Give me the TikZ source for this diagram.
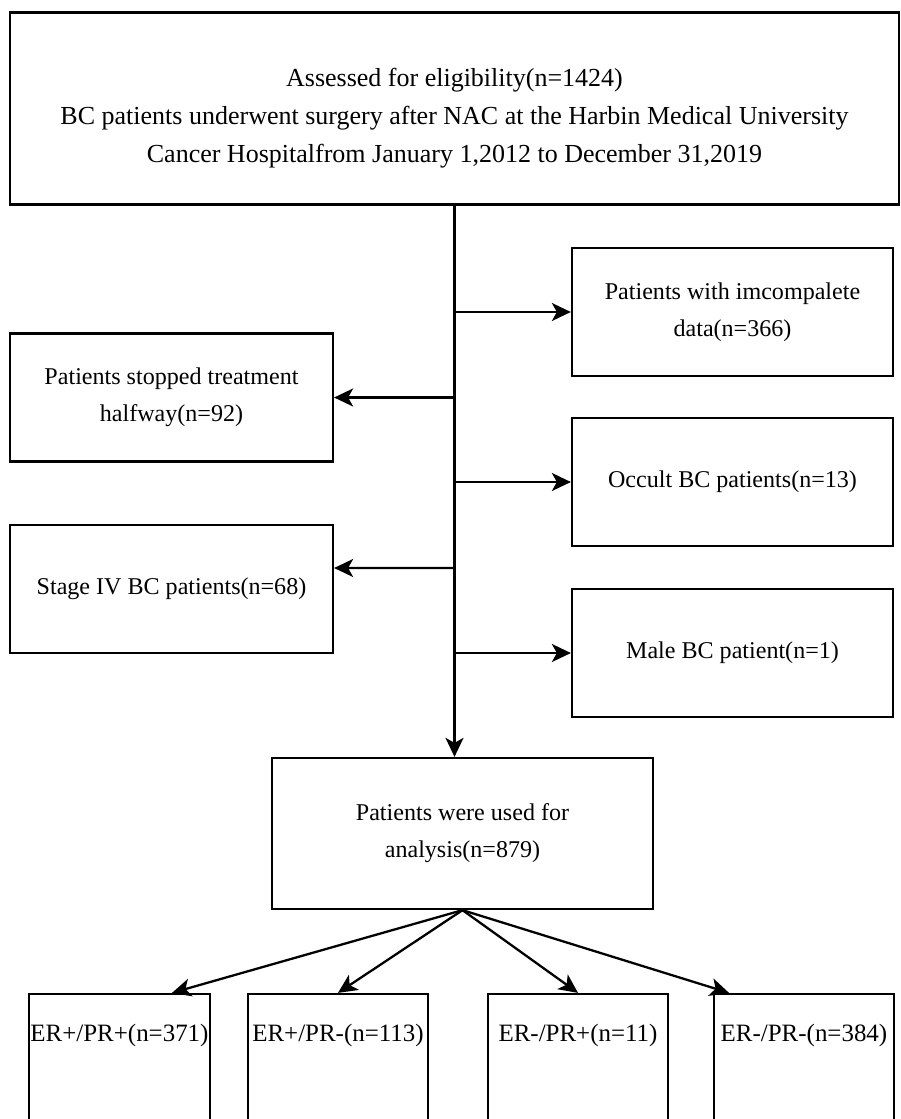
\documentclass[tikz,border=0pt]{standalone}
\usepackage{fontspec}
\setmainfont{Liberation Serif}
\usetikzlibrary{arrows.meta}
\usetikzlibrary{positioning}

\tikzset{
box/.style={draw=black,line width=1.3pt,align=center,inner sep=0pt},
arr/.style={line width=1.3pt,-{Stealth[length=0.38cm,width=0.36cm,inset=0.1cm]}},
}

\begin{document}
\begin{tikzpicture}[x=0.02cm,y=-0.02cm,font=\fontsize{13.7}{21}\selectfont]
\clip (0,0) rectangle (901,1119);
\node[box,minimum width=17.78cm,minimum height=3.84cm,label={[anchor=center,yshift=-0.19cm,align=center,font=\fontsize{14.8}{21.5}\selectfont]center:Assessed for eligibility(n=1424)\\BC patients underwent surgery after NAC at the Harbin Medical University\\Cancer Hospitalfrom January 1,2012 to December 31,2019}] (assess) at (454.5,108.5) {};

\node[box,minimum width=6.42cm,minimum height=2.56cm] (incomp) at (732.5,312) {Patients with imcompalete\\data(n=366)};
\node[box,minimum width=6.42cm,minimum height=2.56cm] (occult) at (732.5,482) {Occult BC patients(n=13)};
\node[box,minimum width=6.42cm,minimum height=2.56cm] (male) at (732.5,653) {Male BC patient(n=1)};

\node[box,minimum width=6.46cm,minimum height=2.56cm] (stopped) at (171.5,397.5) {Patients stopped treatment\\halfway(n=92)};
\node[box,minimum width=6.46cm,minimum height=2.56cm] (stage) at (171.5,589) {Stage IV BC patients(n=68)};

\node[box,minimum width=7.62cm,minimum height=3.02cm] (analysis) at (462.5,833.5) {Patients were used for\\analysis(n=879)};

\node[box,minimum width=3.62cm,minimum height=3.72cm,label={[anchor=center,yshift=-0.86cm,font=\fontsize{14.2}{21}\selectfont]north:ER+/PR+(n=371)}] (pp) at (119.5,1087) {};
\node[box,minimum width=3.6cm,minimum height=3.72cm,label={[anchor=center,yshift=-0.86cm,font=\fontsize{14.2}{21}\selectfont]north:ER+/PR-(n=113)}] (pn) at (338,1087) {};
\node[box,minimum width=3.6cm,minimum height=3.72cm,label={[anchor=center,yshift=-0.86cm,font=\fontsize{14.2}{21}\selectfont]north:ER-/PR+(n=11)}] (np) at (578,1087) {};
\node[box,minimum width=3.6cm,minimum height=3.72cm,label={[anchor=center,yshift=-0.86cm,font=\fontsize{14.2}{21}\selectfont]north:ER-/PR-(n=384)}] (nn) at (804,1087) {};

% main flow
\draw[arr] (assess.south) -- (assess.south |- analysis.north);
\draw[arr] (assess.south |- incomp.west) -- (incomp.west);
\draw[arr] (assess.south |- occult.west) -- (occult.west);
\draw[arr] (assess.south |- male.west) -- (male.west);
\draw[arr] (assess.south |- stopped.east) -- (stopped.east);
\draw[arr] (assess.south |- 0,568) -- ([yshift=0.42cm]stage.east);

% subgroups
\draw[arr] (analysis.south) -- ([xshift=1.05cm]pp.north);
\draw[arr] (analysis.south) -- (pn.north);
\draw[arr] (analysis.south) -- (np.north);
\draw[arr] (analysis.south) -- ([xshift=-1.5cm]nn.north);
\end{tikzpicture}
\end{document}
